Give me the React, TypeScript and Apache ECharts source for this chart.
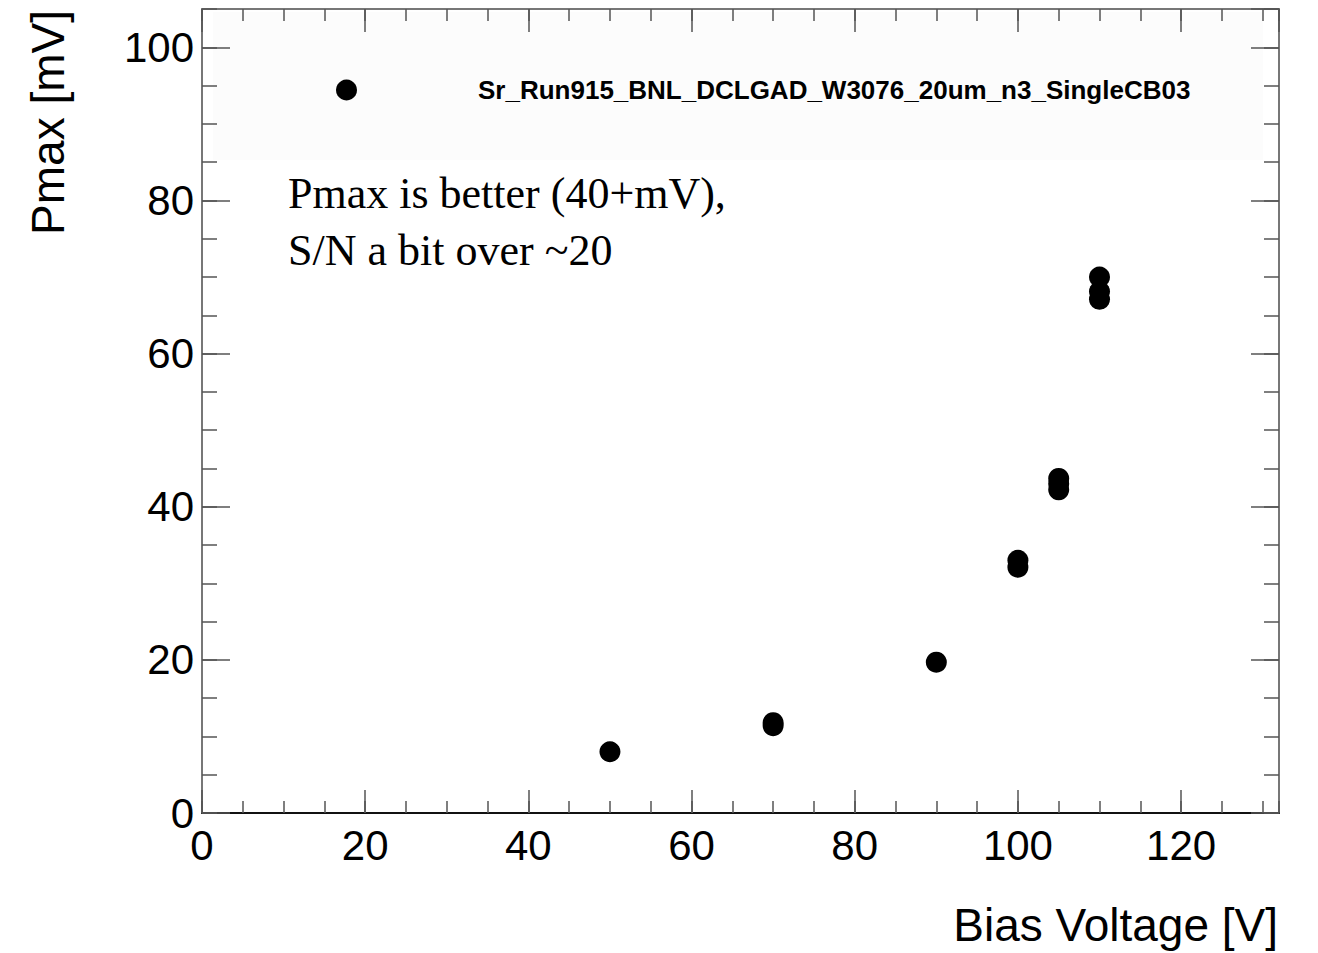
import React, { useEffect, useRef } from "react";
import * as echarts from "echarts";

const seriesName = "Sr_Run915_BNL_DCLGAD_W3076_20um_n3_SingleCB03";
const biasVoltage = [50, 70, 70, 90, 100, 100, 105, 105, 105, 110, 110, 110];
const pmax = [8.0, 11.8, 11.4, 19.7, 33.0, 32.1, 43.7, 43.0, 42.2, 70.0, 68.1, 67.1];
const xTitle = "Bias Voltage [V]";
const yTitle = "Pmax [mV]";
const noteLines = ["Pmax is better (40+mV),", "S/N a bit over ~20"];

const X_MIN = 0, X_MAX = 132, Y_MIN = 0, Y_MAX = 105;

export default function App() {
  const ref = useRef<HTMLDivElement>(null);
  useEffect(() => {
    if (!ref.current) return;
    const chart = echarts.init(ref.current, null, { renderer: "svg" });
    const sans = "'Liberation Sans', Arial, Helvetica, sans-serif";
    const mkX = (pos: string, major: boolean, lineColor: string, lineWidth: number, labels: boolean) => ({
      type: "value",
      position: pos,
      min: X_MIN,
      max: X_MAX,
      interval: major ? 20 : 5,
      axisLine: { show: major, onZero: false, lineStyle: { color: lineColor, width: lineWidth } },
      axisTick: { show: true, inside: true, length: major ? 23 : 12, lineStyle: { color: "#555", width: 1.5 } },
      axisLabel: {
        show: labels,
        fontSize: 42,
        color: "#000",
        fontFamily: sans,
        margin: 11,
        showMaxLabel: false,
      },
      splitLine: { show: false },
    });
    const mkY = (pos: string, major: boolean, lineColor: string, lineWidth: number, labels: boolean) => ({
      type: "value",
      position: pos,
      min: Y_MIN,
      max: Y_MAX,
      interval: major ? 20 : 5,
      axisLine: { show: major, onZero: false, lineStyle: { color: lineColor, width: lineWidth } },
      axisTick: { show: true, inside: true, length: major ? 28 : 15, lineStyle: { color: "#555", width: 1.5 } },
      axisLabel: {
        show: labels,
        fontSize: 42,
        color: "#000",
        fontFamily: sans,
        margin: 8,
        showMaxLabel: false,
      },
      splitLine: { show: false },
    });
    chart.setOption({
      animation: false,
      backgroundColor: "#ffffff",
      grid: { left: 202, top: 9, right: 39, bottom: 140, containLabel: false },
      xAxis: [
        mkX("bottom", true, "#111", 2, true),
        mkX("bottom", false, "#111", 2, false),
        mkX("top", true, "#777", 2, false),
        mkX("top", false, "#777", 2, false),
      ],
      yAxis: [
        mkY("left", true, "#777", 2, true),
        mkY("left", false, "#777", 2, false),
        mkY("right", true, "#777", 2, false),
        mkY("right", false, "#777", 2, false),
      ],
      legend: {
        show: true,
        left: 336,
        top: 77,
        padding: 0,
        itemWidth: 21,
        itemHeight: 21,
        icon: "circle",
        selectedMode: false,
        data: [seriesName],
        textStyle: {
          fontSize: 26,
          fontWeight: "bold",
          color: "#000",
          fontFamily: sans,
          padding: [0, 0, 0, 116],
        },
      },
      graphic: [
        {
          type: "rect",
          z: -100,
          shape: { x: 213, y: 12, width: 1050, height: 148 },
          style: { fill: "#fcfcfc" },
          silent: true,
        },
        {
          type: "text",
          x: 288,
          y: 193,
          style: {
            text: noteLines[0],
            font: "44px 'Liberation Serif', 'Times New Roman', serif",
            fill: "#000",
            verticalAlign: "middle",
          },
        },
        {
          type: "text",
          x: 288,
          y: 250,
          style: {
            text: noteLines[1],
            font: "44px 'Liberation Serif', 'Times New Roman', serif",
            fill: "#000",
            verticalAlign: "middle",
          },
        },
        {
          type: "text",
          x: 1278,
          y: 925,
          style: {
            text: xTitle,
            font: "46px 'Liberation Sans', Arial, sans-serif",
            fill: "#000",
            align: "right",
            verticalAlign: "middle",
          },
        },
        {
          type: "text",
          x: 48,
          y: 10,
          rotation: Math.PI / 2,
          style: {
            text: yTitle,
            font: "46px 'Liberation Sans', Arial, sans-serif",
            fill: "#000",
            align: "right",
            verticalAlign: "middle",
          },
        },
      ],
      series: [
        {
          name: seriesName,
          type: "scatter",
          xAxisIndex: 0,
          yAxisIndex: 0,
          symbol: "circle",
          symbolSize: 21,
          itemStyle: { color: "#000", opacity: 1 },
          data: biasVoltage.map((v, i) => [v, pmax[i]]),
        },
      ],
    });
    return () => chart.dispose();
  }, []);
  return <div ref={ref} style={{ position: "absolute", left: 0, top: 0, width: 1318, height: 953 }} />;
}
